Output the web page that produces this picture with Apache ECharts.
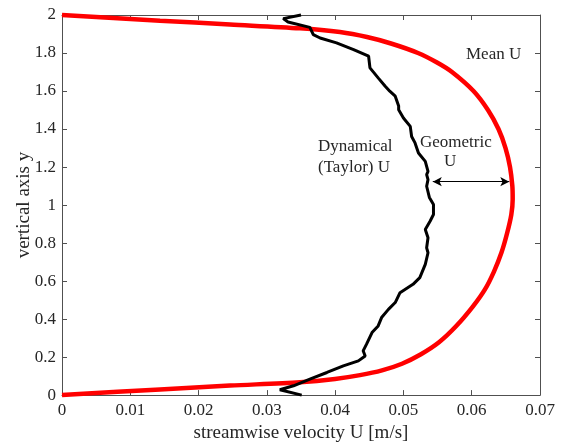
<!DOCTYPE html>
<html>
<head>
<meta charset="utf-8">
<script src="https://cdn.jsdelivr.net/npm/echarts@6/dist/echarts.min.js"></script>
<style>
html,body{margin:0;padding:0;background:#fff;}
#c{width:564px;height:448px;}
</style>
</head>
<body>
<div id="c"></div>
<script>
// Mean U profile (red): streamwise velocity and vertical position
const meanU = [0, 0.01435, 0.0246, 0.03485, 0.03998, 0.04364, 0.04686, 0.04979, 0.05257, 0.05521, 0.0577, 0.06019, 0.06194, 0.06326, 0.06436, 0.06517, 0.0658, 0.0660, 0.06595, 0.06561, 0.06495, 0.06392, 0.06238, 0.06026, 0.05711, 0.05492, 0.05213, 0.04818, 0.04466, 0.04071, 0.03485, 0.0246, 0.01435, 0];
const meanY = [0, 0.030, 0.050, 0.068, 0.085, 0.105, 0.130, 0.165, 0.215, 0.278, 0.362, 0.467, 0.556, 0.650, 0.750, 0.850, 0.950, 1.030, 1.100, 1.200, 1.300, 1.400, 1.500, 1.600, 1.700, 1.750, 1.800, 1.850, 1.884, 1.910, 1.930, 1.950, 1.970, 2.0];

// Dynamical (Taylor) U profile (black)
const dynU = [0.0350, 0.0324, 0.0331, 0.0363, 0.0368, 0.0378, 0.0402, 0.0427, 0.0449, 0.0451, 0.0463, 0.0473, 0.0480, 0.0488, 0.0493, 0.0493, 0.0500, 0.0510, 0.0512, 0.0517, 0.0522, 0.0532, 0.0536, 0.0534, 0.0536, 0.0534, 0.0538, 0.0544, 0.0544, 0.0539, 0.0532, 0.0536, 0.0534, 0.0536, 0.0532, 0.0524, 0.0514, 0.0495, 0.0488, 0.0478, 0.0468, 0.0463, 0.0454, 0.0446, 0.0441, 0.0444, 0.0434, 0.0412, 0.0388, 0.0363, 0.0339, 0.0319, 0.0351];
const dynY = [2.000, 1.981, 1.963, 1.935, 1.897, 1.879, 1.853, 1.818, 1.783, 1.722, 1.669, 1.626, 1.599, 1.573, 1.521, 1.501, 1.458, 1.414, 1.361, 1.327, 1.274, 1.230, 1.177, 1.160, 1.134, 1.099, 1.040, 1.003, 0.950, 0.915, 0.871, 0.828, 0.775, 0.749, 0.688, 0.618, 0.583, 0.539, 0.487, 0.451, 0.408, 0.364, 0.329, 0.268, 0.233, 0.206, 0.180, 0.154, 0.119, 0.084, 0.049, 0.028, 0.000];

// Geometric U arrow
const arrowU = [0.0543, 0.0655];
const arrowY = [1.123, 1.123];

const xTicks = [0, 0.01, 0.02, 0.03, 0.04, 0.05, 0.06, 0.07];
const yTicks = [0, 0.2, 0.4, 0.6, 0.8, 1, 1.2, 1.4, 1.6, 1.8, 2];

const FONT = '"Liberation Serif", "Times New Roman", serif';
const TXT = '#262626';
const AX = '#505050';

const chart = echarts.init(document.getElementById('c'), null, {renderer: 'canvas'});

const axisCommon = {
  type: 'value',
  splitLine: {show: false},
  axisLine: {show: true, onZero: false, lineStyle: {color: AX, width: 1}},
  axisTick: {show: true, inside: true, length: 5, lineStyle: {color: AX, width: 1}},
  nameTextStyle: {fontFamily: FONT, fontSize: 19, color: TXT}
};

chart.setOption({
  animation: false,
  backgroundColor: '#fff',
  grid: {left: 62, right: 24, top: 15, bottom: 52, containLabel: false},
  xAxis: [
    Object.assign({}, axisCommon, {
      position: 'bottom', min: 0, max: 0.07, interval: 0.01,
      name: 'streamwise velocity U [m/s]', nameLocation: 'middle', nameGap: 25,
      axisLabel: {fontFamily: FONT, fontSize: 17, color: TXT, margin: 7,
        formatter: v => { const f = xTicks.find(t => Math.abs(t - v) < 1e-9); return f === undefined ? '' : String(f); }}
    }),
    Object.assign({}, axisCommon, {position: 'top', min: 0, max: 0.07, interval: 0.01, axisLabel: {show: false}})
  ],
  yAxis: [
    Object.assign({}, axisCommon, {
      position: 'left', min: 0, max: 2, interval: 0.2,
      name: 'vertical axis y', nameLocation: 'middle', nameGap: 28, nameRotate: 90,
      nameMoveOverlap: false,
      axisLabel: {fontFamily: FONT, fontSize: 17, color: TXT, margin: 6,
        formatter: v => { const f = yTicks.find(t => Math.abs(t - v) < 1e-9); return f === undefined ? '' : String(f); }}
    }),
    Object.assign({}, axisCommon, {position: 'right', min: 0, max: 2, interval: 0.2, axisLabel: {show: false}})
  ],
  series: [
    {
      type: 'line', name: 'Mean U', xAxisIndex: 0, yAxisIndex: 0,
      data: meanU.map((u, i) => [u, meanY[i]]),
      showSymbol: false, smooth: 0.3, clip: false,
      lineStyle: {color: '#ff0000', width: 4.5}
    },
    {
      type: 'line', name: 'Dynamical U', xAxisIndex: 0, yAxisIndex: 0,
      data: dynU.map((u, i) => [u, dynY[i]]),
      showSymbol: false, smooth: false, clip: false,
      lineStyle: {color: '#000000', width: 3}
    },
    {
      type: 'line', name: 'arrow', xAxisIndex: 0, yAxisIndex: 0,
      data: [], showSymbol: false,
      markLine: {
        silent: true, animation: false,
        symbol: ['arrow', 'arrow'], symbolSize: [7, 9],
        label: {show: false},
        lineStyle: {color: '#000', width: 1, type: 'solid'},
        data: [[{coord: [arrowU[0], arrowY[0]]}, {coord: [arrowU[1], arrowY[1]]}]]
      }
    }
  ],
  graphic: [
    {type: 'text', left: 466, top: 46, style: {text: 'Mean U', font: '17px ' + FONT, fill: TXT}},
    {type: 'text', left: 318, top: 138, style: {text: 'Dynamical', font: '17px ' + FONT, fill: TXT}},
    {type: 'text', left: 318, top: 159, style: {text: '(Taylor) U', font: '17px ' + FONT, fill: TXT}},
    {type: 'text', left: 420, top: 134, style: {text: 'Geometric', font: '17px ' + FONT, fill: TXT}},
    {type: 'text', left: 444, top: 153, style: {text: 'U', font: '17px ' + FONT, fill: TXT}}
  ]
});
</script>
</body>
</html>
